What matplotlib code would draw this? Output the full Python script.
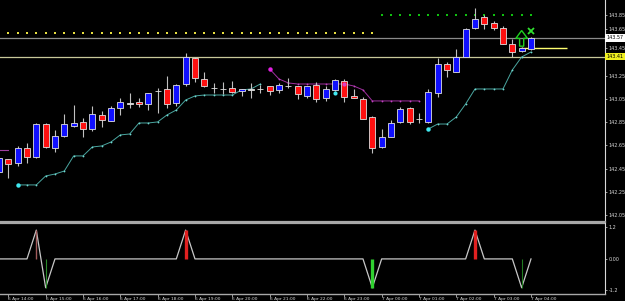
import matplotlib
matplotlib.use("Agg")
import matplotlib.pyplot as plt
import matplotlib.transforms as mtransforms
from matplotlib.patches import Polygon
import numpy as np

# 15 minute bars, 6 Apr 13:45 .. 7 Apr 04:00 (first bar sits at index -1)
first_idx = -1
opens = [142.421, 142.533, 142.498, 142.628, 142.550, 142.834, 142.628, 142.731, 142.817, 142.852,
         142.791, 142.912, 142.860, 142.972, 143.007, 143.024, 143.007, 143.121, 143.136, 143.016,
         143.179, 143.403, 143.222, 143.148, 143.136, 143.145, 143.119, 143.128, 143.136, 143.162,
         143.128, 143.162, 143.162, 143.076, 143.171, 143.059, 143.128, 143.205, 143.076, 143.050,
         142.895, 142.636, 142.722, 142.852, 142.972, 142.876, 142.852, 143.102, 143.352, 143.283,
         143.412, 143.662, 143.757, 143.705, 143.662, 143.524, 143.464, 143.481]
highs = [142.550, 142.533, 142.645, 142.671, 142.840, 142.843, 142.783, 142.921, 142.998, 142.886,
         142.990, 142.947, 142.990, 143.059, 143.102, 143.059, 143.102, 143.145, 143.248, 143.175,
         143.447, 143.412, 143.283, 143.188, 143.197, 143.205, 143.140, 143.188, 143.171, 143.165,
         143.188, 143.231, 143.165, 143.165, 143.197, 143.162, 143.222, 143.222, 143.136, 143.067,
         142.900, 142.791, 142.869, 142.981, 142.981, 142.929, 143.136, 143.403, 143.369, 143.481,
         143.660, 143.834, 143.774, 143.722, 143.679, 143.567, 143.495, 143.580]
lows = [142.400, 142.369, 142.472, 142.498, 142.545, 142.630, 142.593, 142.722, 142.809, 142.722,
        142.774, 142.809, 142.860, 142.912, 142.972, 142.981, 142.955, 142.929, 142.972, 142.990,
        143.162, 143.197, 143.153, 143.102, 143.093, 143.102, 143.076, 143.059, 143.102, 143.084,
        143.102, 143.145, 143.050, 143.059, 143.024, 143.033, 143.119, 143.024, 143.055, 142.875,
        142.584, 142.630, 142.720, 142.843, 142.834, 142.843, 142.843, 143.067, 143.240, 143.280,
        143.410, 143.653, 143.653, 143.645, 143.520, 143.412, 143.455, 143.475]
closes = [142.541, 142.490, 142.628, 142.550, 142.834, 142.636, 142.731, 142.834, 142.843, 142.791,
          142.921, 142.869, 142.972, 143.024, 143.009, 143.007, 143.102, 143.117, 143.007, 143.171,
          143.412, 143.231, 143.160, 143.142, 143.138, 143.110, 143.136, 143.130, 143.138, 143.119,
          143.171, 143.164, 143.093, 143.162, 143.050, 143.136, 143.214, 143.067, 143.059, 142.878,
          142.628, 142.722, 142.843, 142.964, 142.852, 142.880, 143.110, 143.352, 143.300, 143.412,
          143.653, 143.740, 143.697, 143.662, 143.524, 143.455, 143.490, 143.576]

# trailing stop lines
teal1_start = 1
teal1 = [142.309, 142.309, 142.309, 142.386, 142.403, 142.429, 142.559, 142.559, 142.636, 142.645,
         142.679, 142.740, 142.748, 142.843, 142.843, 142.852, 142.912, 142.955, 143.041, 143.076,
         143.084, 143.084, 143.084, 143.084, 143.128, 143.136, 143.179]
magenta0_start = -1
magenta0 = [142.610, 142.610]
magenta1_start = 28
magenta1 = [143.309, 143.222, 143.188, 143.179, 143.179, 143.179, 143.179, 143.179, 143.179,
            143.162, 143.128, 143.033, 143.033, 143.033, 143.033, 143.033, 143.033]
teal2_start = 45
teal2 = [142.791, 142.834, 142.834, 142.895, 143.007, 143.136, 143.136, 143.136, 143.136,
         143.300, 143.412, 143.455]

# dotted levels
yellow_level, yellow_from, yellow_to = 143.617, -1, 39
green_level, green_from, green_to = 143.774, 40, 56

# price lines
bid_price = 143.576
yellow_price = 143.415
short_level = 143.49

# signals on the price chart
arrow_idx, arrow_lo, arrow_hi = 55, 143.505, 143.640
cross_idx, cross_price = 56, 143.632

# indicator (lower panel)
osc = [0, 0, 0, 0, 1.1, -1.1, 0, 0, 0, 0, 0, 0, 0, 0, 0, 0, 0, 0, 0, 0,
       1.1, 0, 0, 0, 0, 0, 0, 0, 0, 0, 0, 0, 0, 0, 0, 0, 0, 0, 0, 0,
       -1.1, 0, 0, 0, 0, 0, 0, 0, 0, 0, 0, 1.1, 0, 0, 0, 0, -1.1, 0]
hist_idx = [3, 4, 19, 39, 50, 55]
hist_val = [1.1, -1.1, 1.1, -1.1, 1.1, -1.1]
hist_col = ['#a05a5a', '#2a8a2a', '#e02020', '#30d030', '#e02020', '#207a20']
hist_lw = [1.0, 0.8, 2.4, 2.4, 2.4, 0.8]

time_idx = [0, 4, 8, 12, 16, 20, 24, 28, 32, 36, 40, 44, 48, 52, 56]
time_labels = ['6 Apr 14:00', '6 Apr 15:00', '6 Apr 16:00', '6 Apr 17:00', '6 Apr 18:00',
               '6 Apr 19:00', '6 Apr 20:00', '6 Apr 21:00', '6 Apr 22:00', '6 Apr 23:00',
               '7 Apr 00:00', '7 Apr 01:00', '7 Apr 02:00', '7 Apr 03:00', '7 Apr 04:00']
price_ticks = [143.774, 143.653, 143.485, 143.25, 143.05, 142.85, 142.65, 142.45, 142.25, 142.05]
price_labels = ['143.85', '143.65', '143.45', '143.25', '143.05', '142.85', '142.65', '142.45',
                '142.25', '142.05']

fs = 3.5
axis_col = '#d8d8d8'

fig = plt.figure(figsize=(6.25, 3.01), dpi=100, facecolor='black')
ax = fig.add_axes([0, 1 - 221.7 / 301, 605 / 625, 221.7 / 301])
ax2 = fig.add_axes([0, 1 - 293.5 / 301, 605 / 625, (293.5 - 222.5) / 301])
for a in (ax, ax2):
    a.set_facecolor('black')
    a.set_xlim(-0.89, 63.93)
    for s in ('left', 'top', 'bottom', 'right'):
        a.spines[s].set_visible(False)
    a.spines['right'].set_visible(True)
    a.spines['right'].set_color(axis_col)
    a.spines['right'].set_linewidth(0.8)
ax.spines['bottom'].set_visible(True)
ax.spines['bottom'].set_color('#a8a8a8')
ax.spines['bottom'].set_linewidth(1.6)
ax2.spines['bottom'].set_visible(True)
ax2.spines['bottom'].set_color('#a8a8a8')
ax2.spines['bottom'].set_linewidth(1.0)

ax.set_ylim(141.992, 143.903)

x = np.arange(len(opens)) + first_idx
o = np.array(opens); c = np.array(closes)
h = np.array(highs); l = np.array(lows)

# dotted levels
yd = np.arange(yellow_from, yellow_to + 1)
ax.plot(yd, [yellow_level] * len(yd), ls='none', marker='s', ms=1.7, color='#e8e040', mew=0)
gd = np.arange(green_from, green_to + 1)
ax.plot(gd, [green_level] * len(gd), ls='none', marker='s', ms=1.7, color='#10c010', mew=0)

# horizontal price lines
ax.axhline(bid_price, color='#8a8a8a', lw=0.9)
ax.axhline(yellow_price, color='#c8c89a', lw=0.9)
ax.hlines(short_level, 54.8, 59.9, color='#ffff70', lw=1.0)

# trailing stops
def stop_line(start, vals, line_col, dot_col, big_col):
    xs = np.arange(len(vals)) + start
    ax.plot(xs, vals, color=line_col, lw=0.7, zorder=2)
    ax.plot(xs, vals, ls='none', marker='o', ms=1.3, color=dot_col, mew=0, zorder=2)
    ax.plot(xs[0], vals[0], marker='o', ms=3.2, color=big_col, mew=0, zorder=2)

stop_line(teal1_start, teal1, '#4aa6a0', '#6fd8d0', '#40e8f0')
stop_line(teal2_start, teal2, '#4aa6a0', '#6fd8d0', '#40e8f0')
ax.plot(np.arange(len(magenta0)) + magenta0_start, magenta0, color='#a040a0', lw=0.8)
stop_line(magenta1_start, magenta1, '#a030a0', '#c040c0', '#e020e0')
ax.plot(35, 143.102, marker='o', ms=3, color='#40e8f0', mew=0, zorder=4)
ax.plot(36, 143.179, marker='o', ms=3, color='#e040c0', mew=0, zorder=4)

# candles
ax.vlines(x, l, h, color='#c0c0c0', lw=0.8, zorder=3)
bull = c >= o
body = np.abs(c - o)
body = np.where(body < 0.004, 0.004, body)
bottom = np.minimum(o, c)
fill = np.where(body <= 0.004, '#d0d0d0', np.where(bull, '#1010ff', '#ff1010'))
ax.bar(x, body, bottom=bottom, width=0.62, color=fill, edgecolor='#e0e0e0',
       linewidth=0.6, zorder=3)

# hollow up arrow + cross
span = arrow_hi - arrow_lo
neck = arrow_lo + span * 0.5
shape = [(-0.22, arrow_lo), (0.22, arrow_lo), (0.22, neck), (0.62, neck), (0, arrow_hi),
         (-0.62, neck), (-0.22, neck)]
ax.add_patch(Polygon([(arrow_idx + dx, yy) for dx, yy in shape], closed=True, fill=False,
                     ec='#20d020', lw=1.0, zorder=5))
ax.plot(cross_idx, cross_price, marker='x', ms=4, mew=1.3, color='#30e030', zorder=5)

# right price axis
ax.yaxis.tick_right()
ax.set_yticks(price_ticks)
ax.set_yticklabels(price_labels)
ax.tick_params(axis='y', colors=axis_col, labelsize=fs, length=1.5, width=0.5, pad=1)
ax.set_xticks([])

tr = mtransforms.blended_transform_factory(ax.transAxes, ax.transData)
ax.text(1.002, bid_price, '143.57', transform=tr, ha='left', va='center', fontsize=fs,
        color='black', clip_on=False, zorder=6,
        bbox=dict(fc='white', ec='none', boxstyle='square,pad=0.25'))
ax.text(1.002, yellow_price, '143.41', transform=tr, ha='left', va='center', fontsize=fs,
        color='black', clip_on=False, zorder=6,
        bbox=dict(fc='#f0f020', ec='none', boxstyle='square,pad=0.25'))

# indicator panel
xo = np.arange(len(osc)) + first_idx
ax2.set_ylim(-1.32, 1.39)
ax2.plot(xo, osc, color='#c8c8c8', lw=0.9, zorder=2)
for i, v, col, lw in zip(hist_idx, hist_val, hist_col, hist_lw):
    ax2.vlines(i, 0, v, color=col, lw=lw, zorder=3)
ax2.yaxis.tick_right()
ax2.set_yticks([1.2, 0, -1.2])
ax2.set_yticklabels(['1.2', '0.00', '-1.2'])
ax2.tick_params(axis='y', colors=axis_col, labelsize=fs, length=1.5, width=0.5, pad=1)
ax2.set_xticks(time_idx)
ax2.set_xticklabels(time_labels, ha='left')
ax2.tick_params(axis='x', colors=axis_col, labelsize=3.2, length=2, width=0.5, pad=0.3)
ax2.axhline(1.39, color='#a8a8a8', lw=1.6)

fig.savefig('out.png', dpi=100, facecolor='black')
